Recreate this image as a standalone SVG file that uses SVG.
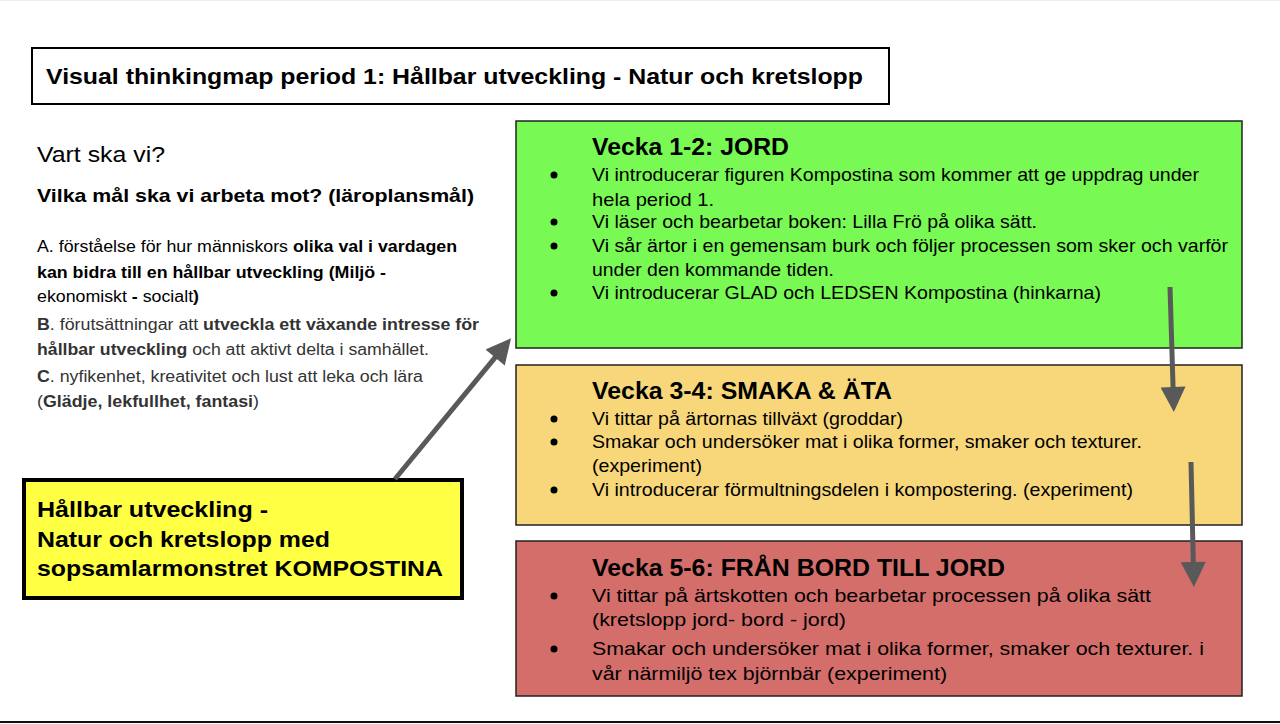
<svg xmlns="http://www.w3.org/2000/svg" width="1280" height="724" viewBox="0 0 1280 724">
<defs>
<style>
text{font-family:"Liberation Sans",Arial,sans-serif;fill:#000}
.b{font-weight:bold}
.box{stroke:#222;stroke-width:1.5}
.h{font-size:23px;font-weight:bold}
.t{font-size:19px}
.l{font-size:16px}
.dot{fill:#000}
.conn{stroke:#595959;stroke-width:5;fill:none;marker-end:url(#ah)}
</style>
<marker id="ah" viewBox="0 0 10 10" refX="2" refY="5" markerWidth="7" markerHeight="5" orient="auto" markerUnits="strokeWidth">
<path d="M0,0 L10,5 L0,10 z" fill="#595959"/>
</marker>
</defs>
<rect x="0" y="0" width="1280" height="724" fill="#fff"/>
<line x1="0" y1="0.5" x2="1280" y2="0.5" stroke="#eee" stroke-width="1"/>
<line x1="0" y1="722" x2="1280" y2="722" stroke="#111" stroke-width="2"/>

<g id="title">
<rect x="32" y="48" width="857" height="56" fill="#fff" stroke="#000" stroke-width="2"/>
<text x="46" y="84" class="b" font-size="22" textLength="817" lengthAdjust="spacingAndGlyphs">Visual thinkingmap period 1: Hållbar utveckling - Natur och kretslopp</text>
</g>

<g id="goals">
<text x="37" y="162" font-size="22" textLength="128" lengthAdjust="spacingAndGlyphs">Vart ska vi?</text>
<text x="37" y="202" class="b" font-size="18.5" textLength="437" lengthAdjust="spacingAndGlyphs">Vilka mål ska vi arbeta mot? (läroplansmål)</text>
<text x="37" y="252" class="l" textLength="420" lengthAdjust="spacingAndGlyphs">A. förståelse för hur människors <tspan class="b">olika val i vardagen</tspan></text>
<text x="37" y="278" class="l b" textLength="349" lengthAdjust="spacingAndGlyphs">kan bidra till en hållbar utveckling (Miljö -</text>
<text x="37" y="302" class="l" textLength="162" lengthAdjust="spacingAndGlyphs">ekonomiskt <tspan class="b">-</tspan> socialt<tspan class="b">)</tspan></text>
<text x="37" y="330" class="l" style="fill:#333" textLength="442" lengthAdjust="spacingAndGlyphs"><tspan class="b">B</tspan>. förutsättningar att <tspan class="b">utveckla ett växande intresse för</tspan></text>
<text x="37" y="355" class="l" style="fill:#333" textLength="392" lengthAdjust="spacingAndGlyphs"><tspan class="b">hållbar utveckling</tspan> och att aktivt delta i samhället.</text>
<text x="37" y="382" class="l" style="fill:#333" textLength="386" lengthAdjust="spacingAndGlyphs"><tspan class="b">C</tspan>. nyfikenhet, kreativitet och lust att leka och lära</text>
<text x="37" y="407" class="l" style="fill:#333" textLength="222" lengthAdjust="spacingAndGlyphs">(<tspan class="b">Glädje, lekfullhet, fantasi</tspan>)</text>
</g>

<g id="week12">
<rect class="box" x="516" y="121" width="726" height="227" fill="#79f954"/>
<text x="592" y="155" class="h" textLength="197" lengthAdjust="spacingAndGlyphs">Vecka 1-2: JORD</text>
<circle class="dot" cx="554" cy="175" r="3.5"/>
<text x="592" y="181" class="t" textLength="607" lengthAdjust="spacingAndGlyphs">Vi introducerar figuren Kompostina som kommer att ge uppdrag under</text>
<text x="592" y="206" class="t" textLength="122" lengthAdjust="spacingAndGlyphs">hela period 1.</text>
<circle class="dot" cx="554" cy="222" r="3.5"/>
<text x="592" y="228" class="t" textLength="445" lengthAdjust="spacingAndGlyphs">Vi läser och bearbetar boken: Lilla Frö på olika sätt.</text>
<circle class="dot" cx="554" cy="246" r="3.5"/>
<text x="592" y="252" class="t" textLength="636" lengthAdjust="spacingAndGlyphs">Vi sår ärtor i en gemensam burk och följer processen som sker och varför</text>
<text x="592" y="276" class="t" textLength="242" lengthAdjust="spacingAndGlyphs">under den kommande tiden.</text>
<circle class="dot" cx="554" cy="293" r="3.5"/>
<text x="592" y="299" class="t" textLength="509" lengthAdjust="spacingAndGlyphs">Vi introducerar GLAD och LEDSEN Kompostina (hinkarna)</text>
</g>

<g id="week34">
<rect class="box" x="516" y="365" width="726" height="160" fill="#f7d77a"/>
<text x="592" y="399" class="h" textLength="300" lengthAdjust="spacingAndGlyphs">Vecka 3-4: SMAKA &amp; ÄTA</text>
<circle class="dot" cx="554" cy="419" r="3.5"/>
<text x="592" y="425" class="t" textLength="311" lengthAdjust="spacingAndGlyphs">Vi tittar på ärtornas tillväxt (groddar)</text>
<circle class="dot" cx="554" cy="442" r="3.5"/>
<text x="592" y="448" class="t" textLength="550" lengthAdjust="spacingAndGlyphs">Smakar och undersöker mat i olika former, smaker och texturer.</text>
<text x="592" y="472" class="t" textLength="110" lengthAdjust="spacingAndGlyphs">(experiment)</text>
<circle class="dot" cx="554" cy="490" r="3.5"/>
<text x="592" y="496" class="t" textLength="541" lengthAdjust="spacingAndGlyphs">Vi introducerar förmultningsdelen i kompostering. (experiment)</text>
</g>

<g id="week56">
<rect class="box" x="516" y="541" width="726" height="155" fill="#d46e6b"/>
<text x="592" y="576" class="h" textLength="413" lengthAdjust="spacingAndGlyphs">Vecka 5-6: FRÅN BORD TILL JORD</text>
<circle class="dot" cx="554" cy="596" r="3.5"/>
<text x="592" y="602" class="t" textLength="559" lengthAdjust="spacingAndGlyphs">Vi tittar på ärtskotten och bearbetar processen på olika sätt</text>
<text x="592" y="626" class="t" textLength="254" lengthAdjust="spacingAndGlyphs">(kretslopp jord- bord - jord)</text>
<circle class="dot" cx="554" cy="649" r="3.5"/>
<text x="592" y="655" class="t" textLength="612" lengthAdjust="spacingAndGlyphs">Smakar och undersöker mat i olika former, smaker och texturer. i</text>
<text x="592" y="680" class="t" textLength="355" lengthAdjust="spacingAndGlyphs">vår närmiljö tex björnbär (experiment)</text>
</g>

<g id="center">
<rect x="24" y="480" width="438" height="118" fill="#ffff44" stroke="#000" stroke-width="4"/>
<text x="37" y="517" class="b" font-size="22" textLength="231" lengthAdjust="spacingAndGlyphs">Hållbar utveckling -</text>
<text x="37" y="547" class="b" font-size="22" textLength="293" lengthAdjust="spacingAndGlyphs">Natur och kretslopp med</text>
<text x="37" y="576" class="b" font-size="22" textLength="406" lengthAdjust="spacingAndGlyphs">sopsamlarmonstret KOMPOSTINA</text>
</g>

<g id="connectors">
<line class="conn" x1="395" y1="479" x2="498.3" y2="353.7"/>
<line class="conn" x1="1170" y1="287" x2="1173.2" y2="392"/>
<line class="conn" x1="1191" y1="462" x2="1193.4" y2="567"/>
</g>
</svg>
